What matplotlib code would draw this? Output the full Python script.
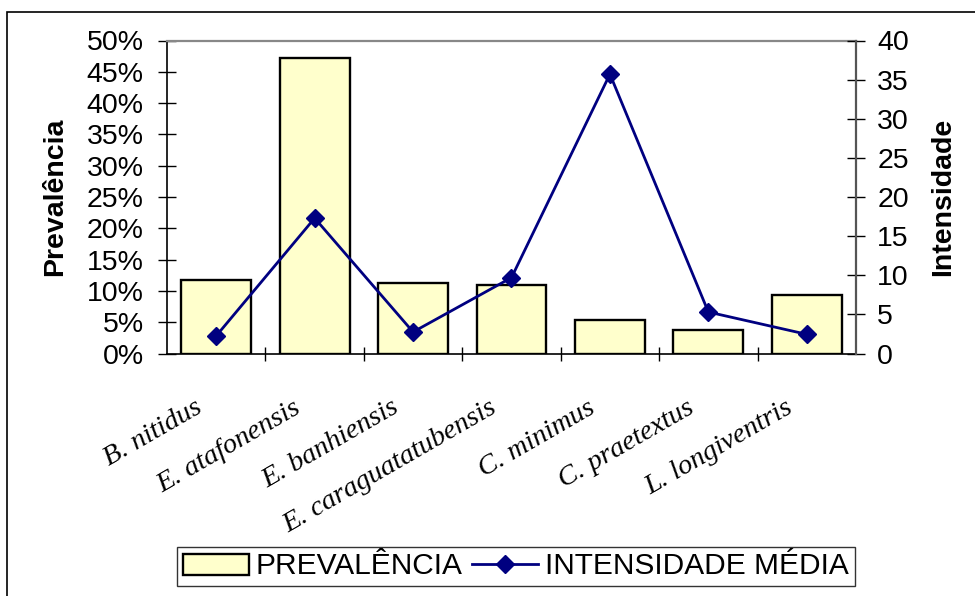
import matplotlib
matplotlib.use("Agg")
import matplotlib.pyplot as plt
from matplotlib.patches import Rectangle
from matplotlib.ticker import MultipleLocator, FuncFormatter, FixedLocator
from matplotlib.transforms import ScaledTranslation

species = ["B. nitidus", "E. atafonensis", "E. banhiensis", "E. caraguatatubensis",
           "C. minimus", "C. praetextus", "L. longiventris"]
prevalencia = [11.7, 47.2, 11.2, 10.9, 5.4, 3.7, 9.3]          # %
intensidade_media = [2.25, 17.3, 2.75, 9.7, 35.7, 5.3, 2.45]

plt.rcParams["font.family"] = ["Liberation Sans", "DejaVu Sans"]

fig = plt.figure(figsize=(9.75, 5.96), dpi=100)
fig.patch.set_facecolor("white")

# outer chart border
fig.patches.append(Rectangle((7 / 975, -0.1), 1.2, (596 - 12) / 596 + 0.1,
                             transform=fig.transFigure, fill=False,
                             edgecolor="black", linewidth=1.2, zorder=0))

ax = fig.add_axes([167 / 975, (596 - 353.5) / 596, (856 - 167) / 975, (353.5 - 40.5) / 596])
x = list(range(len(species)))

bars = ax.bar(x, prevalencia, width=0.71, color="#FFFFCC", edgecolor="black",
              linewidth=1.7, zorder=2, label="PREVALÊNCIA")
ax.set_xlim(-0.5, len(species) - 0.5)
ax.set_ylim(0, 50)
ax.yaxis.set_major_locator(MultipleLocator(5))
ax.yaxis.set_major_formatter(FuncFormatter(lambda v, p: f"{int(round(v))}%"))
ax.tick_params(axis="y", direction="inout", length=12.5, width=1.0, labelsize=20.5, pad=10.5)

# category boundaries carry the tick marks, category centres carry the names
ax.xaxis.set_major_locator(FixedLocator([i + 0.5 for i in range(len(species) - 1)]))
ax.tick_params(axis="x", which="major", direction="inout", length=9.5, width=1.0, labelbottom=False)
ax.set_xticks(x, minor=True)
ax.set_xticklabels(species, minor=True, rotation=30, ha="right", va="top",
                   fontsize=20.5, family=["Liberation Serif"], style="italic")
ax.tick_params(axis="x", which="minor", length=0, pad=30)
shift = ScaledTranslation(-10 / 100, 0, fig.dpi_scale_trans)
for lbl in ax.get_xticklabels(minor=True):
    lbl.set_transform(lbl.get_transform() + shift)

ax.spines["top"].set_color("#888888")
ax.spines["top"].set_linewidth(1.6)
ax.spines["left"].set_linewidth(1.2)
ax.spines["bottom"].set_linewidth(1.2)
ax.spines["right"].set_visible(False)
ax.set_ylabel("Prevalência", fontsize=20.5, fontweight="bold")
ax.yaxis.set_label_coords((68 - 167) / 689, 0.5)

ax2 = ax.twinx()
line, = ax2.plot(x, intensidade_media, color="#000080", linewidth=2.0, marker="D",
                 markersize=9, markerfacecolor="#000080", markeredgecolor="#000080",
                 zorder=3, label="INTENSIDADE MÉDIA")
ax2.set_ylim(0, 40)
ax2.yaxis.set_major_locator(MultipleLocator(5))
ax2.tick_params(axis="y", direction="inout", length=12.5, width=1.0, labelsize=20.5, pad=9)
for s in ["top", "left", "bottom"]:
    ax2.spines[s].set_visible(False)
ax2.spines["right"].set_color("#555555")
ax2.spines["right"].set_linewidth(1.6)
ax2.set_ylabel("Intensidade", fontsize=20.5, fontweight="bold")
ax2.yaxis.set_label_coords((930 - 167) / 689, 0.5)

leg = fig.legend([bars, line], ["PREVALÊNCIA", "INTENSIDADE MÉDIA"], ncol=2,
                 loc="center", bbox_to_anchor=(516 / 975, 1 - 566.5 / 596),
                 fontsize=21.5, frameon=True, fancybox=False, edgecolor="black",
                 handlelength=2.2, handletextpad=0.23, columnspacing=0.33,
                 borderpad=0.2, borderaxespad=0)
leg.get_frame().set_linewidth(1.0)

fig.savefig("out.png", dpi=100)
